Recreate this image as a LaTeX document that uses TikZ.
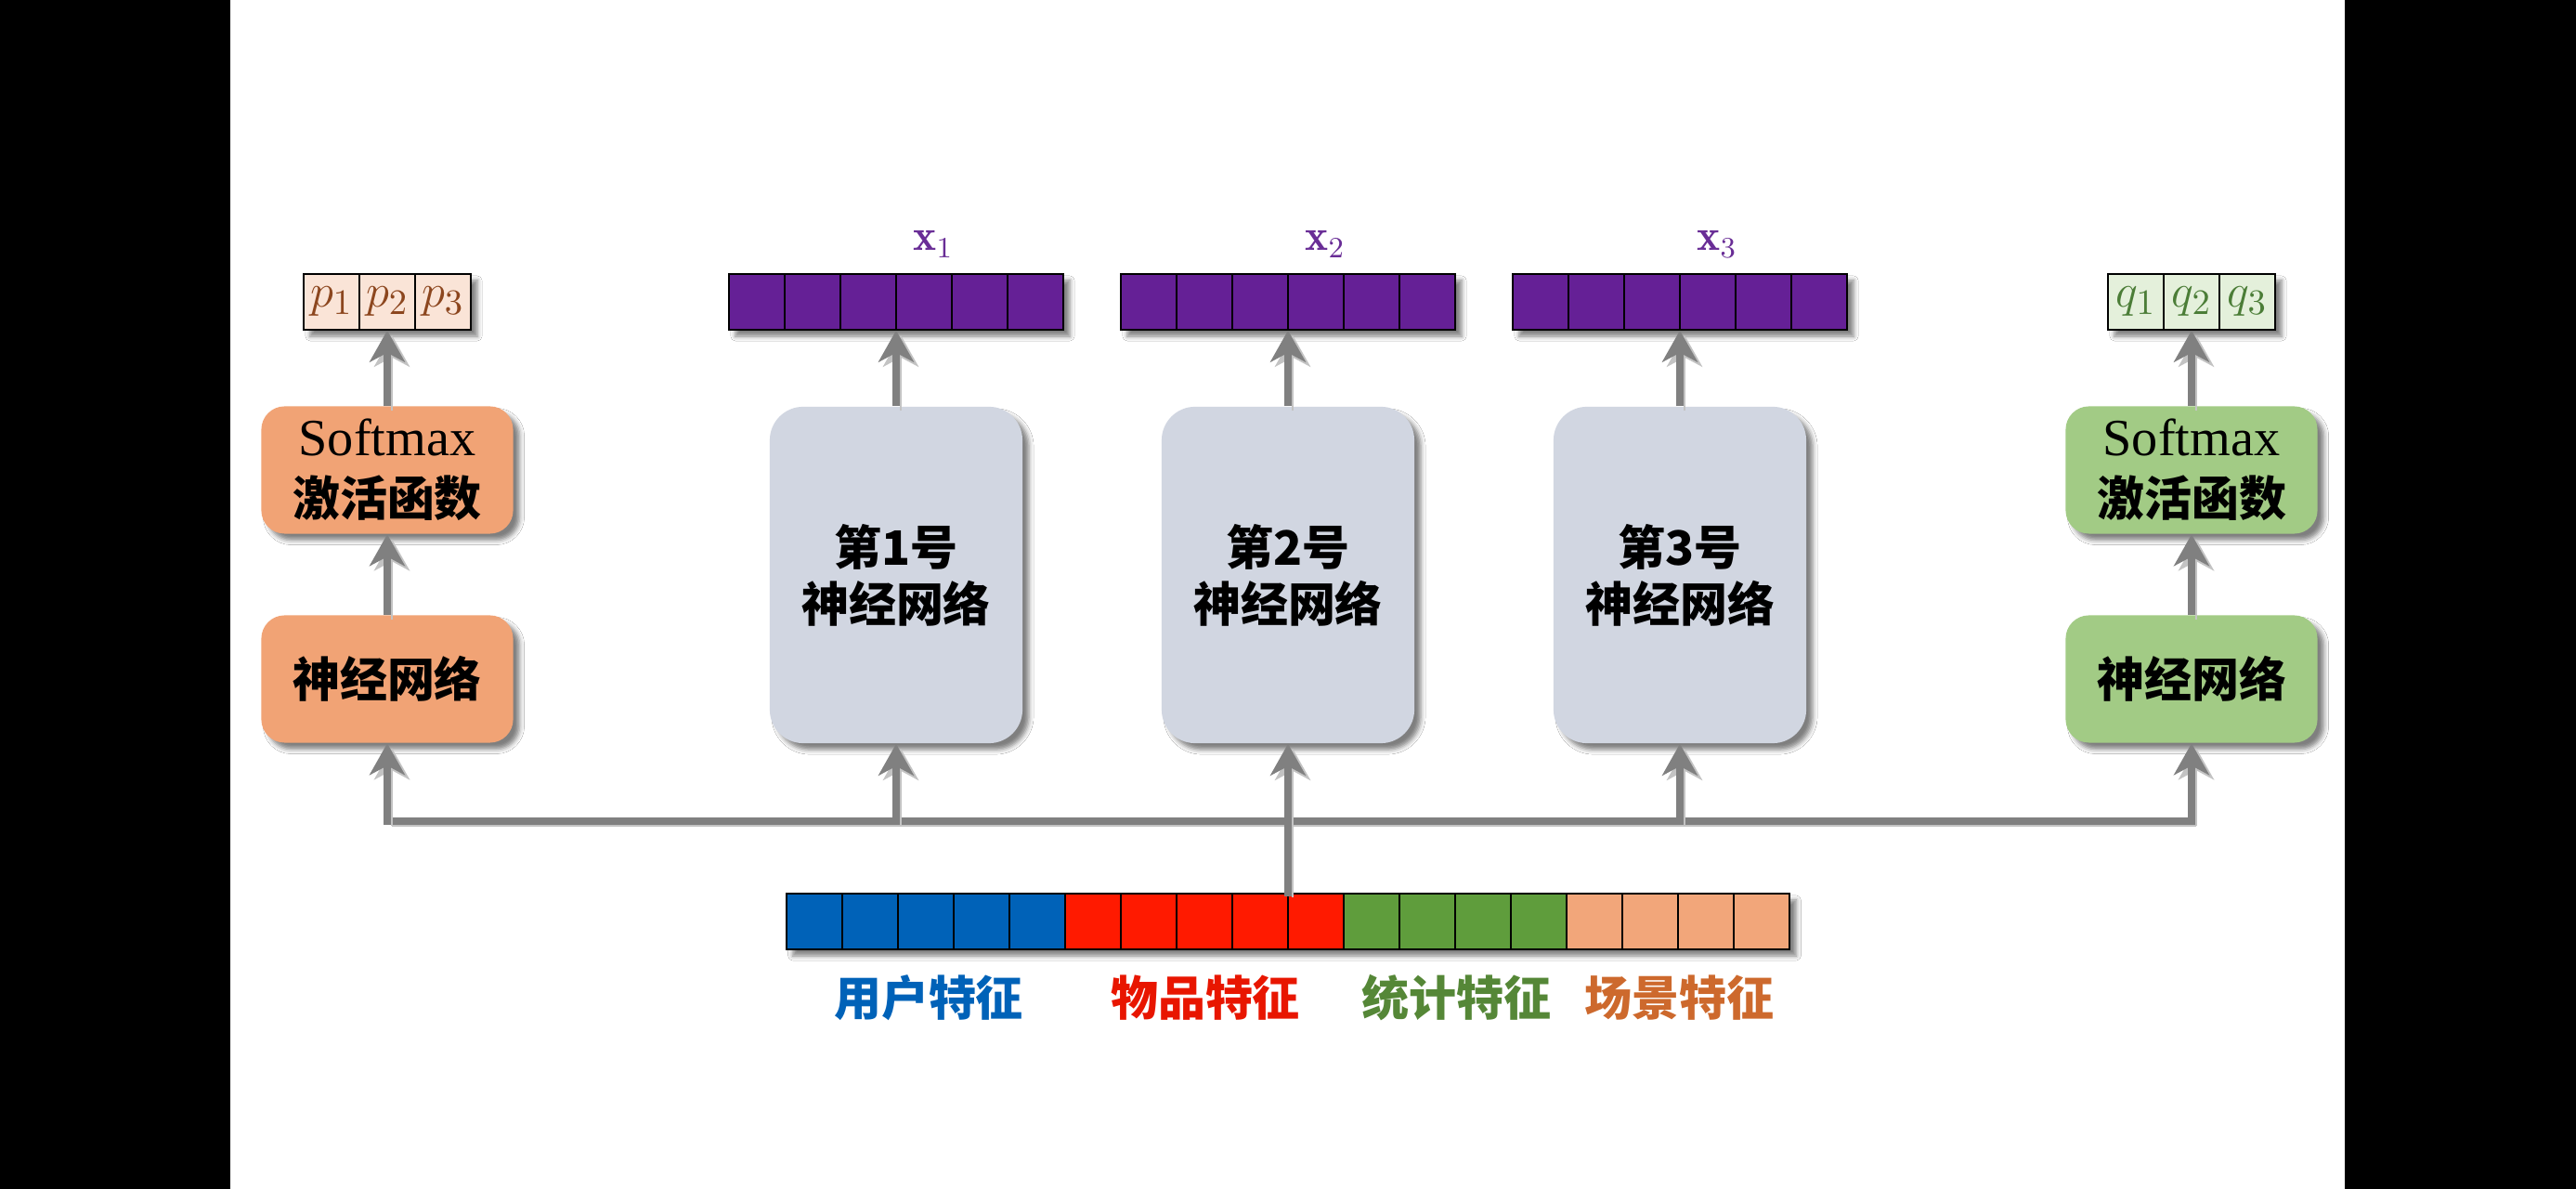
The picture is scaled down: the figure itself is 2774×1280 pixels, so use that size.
\documentclass[tikz,border=0pt]{standalone}
\usepackage{fontspec}
\newfontfamily\cjk{Noto Sans CJK SC}
\newfontfamily\smxfont{Liberation Serif}
\usetikzlibrary{arrows.meta,shadows.blur}
\definecolor{orbox}{RGB}{241,163,117}
\definecolor{grbox}{RGB}{162,203,133}
\definecolor{nnbox}{RGB}{209,214,225}
\definecolor{vpurple}{RGB}{101,32,150}
\definecolor{xlab}{RGB}{105,45,150}
\definecolor{cblue}{RGB}{0,98,184}
\definecolor{cred}{RGB}{255,26,0}
\definecolor{cgreen}{RGB}{95,157,60}
\definecolor{corange}{RGB}{242,166,122}
\definecolor{pfill}{RGB}{250,228,215}
\definecolor{ptext}{RGB}{140,70,30}
\definecolor{qfill}{RGB}{228,240,219}
\definecolor{qtext}{RGB}{75,125,55}
\definecolor{lblue}{RGB}{0,98,184}
\definecolor{lred}{RGB}{232,22,0}
\definecolor{lgreen}{RGB}{85,135,55}
\definecolor{lorange}{RGB}{205,105,45}
\definecolor{arrgray}{RGB}{128,128,128}
\definecolor{shgray}{RGB}{195,195,195}
\begin{document}
\begin{tikzpicture}[x=0.01cm,y=-0.01cm,
  sh/.style={blur shadow={shadow xshift=0.07cm,shadow yshift=-0.07cm,shadow blur radius=0.05cm,shadow opacity=50}},
  box/.style={sh,rectangle,rounded corners=0.25cm,minimum width=2.71cm,minimum height=1.37cm,inner sep=0pt,align=center},
  netbox/.style={sh,rectangle,rounded corners=0.36cm,minimum width=2.72cm,minimum height=3.62cm,inner sep=0pt,align=center,fill=nnbox},
  cjkt/.style={font=\cjk\bfseries\fontsize{14.5pt}{17.4pt}\selectfont},
  smx/.style={font=\smxfont\fontsize{16pt}{18.5pt}\selectfont},
  vec/.style={sh,rectangle,minimum height=0.6cm,inner sep=0pt},
  cell/.style={rectangle,draw=black,line width=0.025cm,minimum width=0.6cm,minimum height=0.6cm,inner sep=0pt},
  arr/.style={draw=arrgray,line width=0.08cm,-{Stealth[length=0.34cm,width=0.38cm,inset=0.1cm]},
    preaction={draw=shgray,transform canvas={xshift=0.05cm,yshift=-0.05cm}}},
  conn/.style={draw=arrgray,line width=0.08cm,line cap=rect,
    preaction={draw=shgray,transform canvas={xshift=0.05cm,yshift=-0.05cm}}},
  xl/.style={text=xlab,font=\fontsize{13.5pt}{15pt}\selectfont,inner sep=0pt},
  pq/.style={font=\fontsize{15pt}{17pt}\selectfont}
]
\useasboundingbox (0,0) rectangle (2774,1280);
\fill[black] (0,0) rectangle (248,1280);
\fill[black] (2525,0) rectangle (2774,1280);
\fill[white] (248,0) rectangle (2525,1280);

% ---------- left branch ----------
\node[box,fill=orbox,smx] (lsm) at (417,506) {Softmax\\{\cjk\bfseries\fontsize{14.5pt}{18.5pt}\selectfont 激活函数}};
\node[box,fill=orbox,cjkt] (lnn) at (417,731) {神经网络};
\node[vec,minimum width=1.8cm] (pv) at (417,325) {};
\node[cell,fill=pfill,pq,text=ptext] (p1) at (357,325) {$p_1$};
\node[cell,fill=pfill,pq,text=ptext] (p2) at (417,325) {$p_2$};
\node[cell,fill=pfill,pq,text=ptext] (p3) at (477,325) {$p_3$};

% ---------- right branch ----------
\node[box,fill=grbox,smx] (rsm) at (2360,506) {Softmax\\{\cjk\bfseries\fontsize{14.5pt}{18.5pt}\selectfont 激活函数}};
\node[box,fill=grbox,cjkt] (rnn) at (2360,731) {神经网络};
\node[vec,minimum width=1.8cm] (qv) at (2360,325) {};
\node[cell,fill=qfill,pq,text=qtext] (q1) at (2300,325) {$q_1$};
\node[cell,fill=qfill,pq,text=qtext] (q2) at (2360,325) {$q_2$};
\node[cell,fill=qfill,pq,text=qtext] (q3) at (2420,325) {$q_3$};

% ---------- expert networks ----------
\node[netbox,cjkt] (nn1) at (965,619) {第1号\\神经网络};
\node[netbox,cjkt] (nn2) at (1387,619) {第2号\\神经网络};
\node[netbox,cjkt] (nn3) at (1809,619) {第3号\\神经网络};

\node[vec,minimum width=3.6cm] (xv1) at (965,325) {};
\node[vec,minimum width=3.6cm] (xv2) at (1387,325) {};
\node[vec,minimum width=3.6cm] (xv3) at (1809,325) {};
\foreach \c/\k in {965/1,1387/2,1809/3}{
  \foreach \i in {0,...,5}{
    \node[cell,fill=vpurple] (x\k c\i) at ({\c-150+60*\i},325) {};
  }
}
\node[xl] (xl1) at (1005,263) {$\mathbf{x}_1$};
\node[xl] (xl2) at (1427,263) {$\mathbf{x}_2$};
\node[xl] (xl3) at (1849,263) {$\mathbf{x}_3$};

% ---------- input vector ----------
\node[vec,minimum width=10.8cm] (bv) at (1387,992) {};
\foreach \i in {0,...,4}{\node[cell,fill=cblue] (bb\i) at ({877+60*\i},992) {};}
\foreach \i in {5,...,9}{\node[cell,fill=cred] (bb\i) at ({877+60*\i},992) {};}
\foreach \i in {10,...,13}{\node[cell,fill=cgreen] (bb\i) at ({877+60*\i},992) {};}
\foreach \i in {14,...,17}{\node[cell,fill=corange] (bb\i) at ({877+60*\i},992) {};}

\node[cjkt,text=lblue] (lab1) at (1000,1074) {用户特征};
\node[cjkt,text=lred] (lab2) at (1298,1074) {物品特征};
\node[cjkt,text=lgreen] (lab3) at (1568,1074) {统计特征};
\node[cjkt,text=lorange] (lab4) at (1808,1074) {场景特征};

% ---------- connectors ----------
\coordinate (bL) at (417,884);
\coordinate (b1) at (965,884);
\coordinate (bC) at (1387,884);
\coordinate (b3) at (1809,884);
\coordinate (bR) at (2360,884);

\draw[conn] (bL) -- (bR);
\draw[conn] (bv.north) -- (bC);

\draw[arr] (bL) -- (lnn.south);
\draw[arr] (b1) -- (nn1.south);
\draw[arr] (bC) -- (nn2.south);
\draw[arr] (b3) -- (nn3.south);
\draw[arr] (bR) -- (rnn.south);

\draw[arr] (lnn.north) -- (lsm.south);
\draw[arr] (lsm.north) -- (pv.south);
\draw[arr] (rnn.north) -- (rsm.south);
\draw[arr] (rsm.north) -- (qv.south);

\draw[arr] (nn1.north) -- (xv1.south);
\draw[arr] (nn2.north) -- (xv2.south);
\draw[arr] (nn3.north) -- (xv3.south);
\end{tikzpicture}
\end{document}
